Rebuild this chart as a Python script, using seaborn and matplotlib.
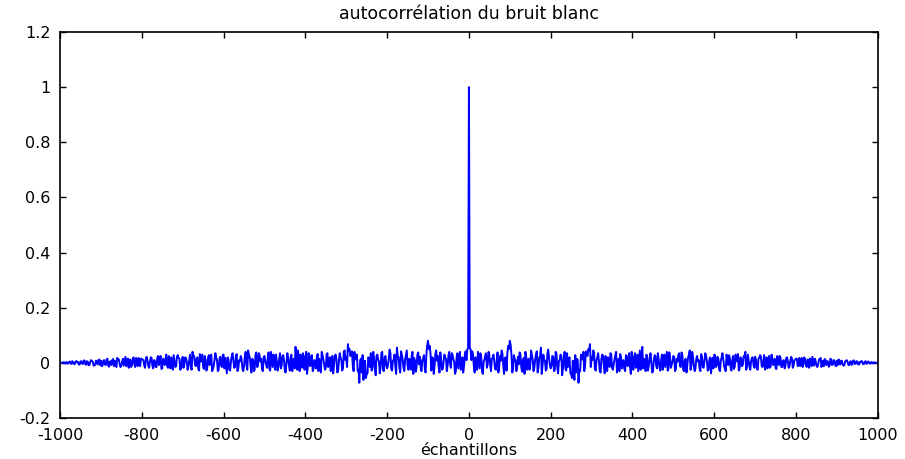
import numpy as np
import pandas as pd
import matplotlib
matplotlib.use("Agg")
import matplotlib.pyplot as plt
import seaborn as sns

# autocorrelation, positive lags only, in thousandths;
# the autocorrelation is even so the negative side mirrors it
peak_value = 1.0

# lags 2, 6, 10, ..., 998
r_lag2_milli = [
    55, 10, 30, -35, 5, 40, -20, 22, -40, 12, 35, -5, 28, -30, 18, 5, -25, 38, -15, 8, 32, -40, 20, 35, 50,
    65, -35, 28, 10, -15, -5, 30, -32, 18, 40, -25, 15, -10, 28, -30, 12, 42, -18, 25, -40, 30, 8, -22, 48, -8,
    -10, 20, -25, 35, -38, 12, 25, -20, 40, -28, -15, 20, -40, 8, -62, -35, 10, -25, 30, 12, -30, 42, 25, 45, -15,
    10, 38, -28, 20, 5, -35, 30, -10, 25, -30, 12, 35, -18, -5, 28, -35, 15, 32, -20, 10, -30, 25, 5, -15, 40,
    -25, 35, -10, -30, 45, 20, -20, 8, 30, -28, 15, 5, -32, 28, -10, 35, -15, 10, -25, 30, 12, -28, 38, -18, 5,
    20, -22, 5, 35, -15, 28, -30, 15, -10, 30, -25, 40, -12, -20, 25, 10, -30, 22, -18, 35, 5, -25, 20, -10, -20,
    28, -10, 15, -30, 20, 12, -22, 30, -8, 18, -28, 25, -15, 10, 32, -20, 15, -5, 22, -25, 30, -12, 5, 20, -18,
    10, -25, 18, 22, -15, 28, -10, -20, 25, -12, 15, 8, -20, 25, -8, 18, -15, 10, -12, 20, -18, 8, 15, -10, 12,
    15, -8, -12, 18, -5, 14, -15, 10, 16, -12, 5, 15, -10, -5, 12, -15, 8, 14, -8, 5, -10, 12, -6, 8, -12,
    -8, 10, 5, -6, -9, 7, 4, -8, 6, -5, 8, -3, 5, -6, 2, 4, -4, 6, -2, 3, -3, 1, 2, 0, 1,
]

# lags 4, 8, 12, ..., 1000
r_lag4_milli = [
    48, 42, -12, 20, -25, 10, 35, -30, 5, 28, -18, 40, -8, 15, 30, -22, 12, -35, 25, 45, -10, 18, -28, 62, 80,
    30, -20, 15, -30, 22, 38, -15, 8, -40, 25, 5, -25, 45, 12, -18, 30, -35, 20, 55, -12, 10, -28, 35, 15, -20,
    25, -30, 40, -15, 5, 30, -45, 18, -20, 35, 10, -38, -55, -20, 28, 15, -72, -30, 22, 40, -10, 30, 50, 68, 20,
    45, -20, 10, 35, -30, 15, 25, -38, 5, 20, -15, 30, -25, 12, 40, -10, -30, 18, 8, -22, 28, -12, 35, -40, 15,
    20, -18, 30, 10, -25, 58, 15, -30, 22, -10, 35, -35, 5, 25, -20, 12, -28, 30, 8, -15, 40, -22, 18, -5, 25,
    -30, 15, 28, -12, 38, -25, 10, -35, 20, 45, -8, 22, -30, 15, 5, -20, 32, -15, 10, 25, -28, 12, -38, 18, 30,
    -15, 22, -25, 8, 35, -10, -30, 15, 28, -18, 10, -22, 30, 5, -28, 20, -12, 25, 40, -15, 8, -25, 18, -8, 22,
    -20, 15, 28, -12, 5, -25, 20, 10, -18, 30, -8, 15, -22, 12, 25, -15, 8, -20, 18, 5, -12, 22, -18, 10, 15,
    -12, 18, 5, -15, 20, -8, 12, -18, 8, 22, -10, 5, -15, 12, 18, -5, -12, 10, 6, -14, 15, -8, 10, -10, 8,
    12, -6, 8, -10, 5, 10, -8, 4, -7, 9, -4, 6, -6, 3, 7, -5, 3, -4, 5, -2, 3, -2, 2, -1, 0,
]

x_ticks = [-1000, -800, -600, -400, -200, 0, 200, 400, 600, 800, 1000]
y_ticks = [-0.2, 0, 0.2, 0.4, 0.6, 0.8, 1, 1.2]
y_tick_labels = ["-0.2", "0", "0.2", "0.4", "0.6", "0.8", "1", "1.2"]

# interleave the two readings into one positive-lag series
n = min(len(r_lag2_milli), len(r_lag4_milli))
r_pos = np.empty(2 * n)
r_pos[0::2] = np.array(r_lag2_milli[:n]) / 1000.0
r_pos[1::2] = np.array(r_lag4_milli[:n]) / 1000.0
lags_pos = 2 * np.arange(1, 2 * n + 1)

lags = np.concatenate([-lags_pos[::-1], [0], lags_pos])
r = np.concatenate([r_pos[::-1], [peak_value], r_pos])
df = pd.DataFrame({"lag": lags, "r": r})

sns.set_style("ticks")
plt.rcParams["font.family"] = ["DejaVu Sans"]

fig = plt.figure(figsize=(9.05, 4.59), dpi=100)
ax = fig.add_axes([0.0663, 0.0893, 0.9037, 0.8410])

sns.lineplot(data=df, x="lag", y="r", color="#0000ff", linewidth=1.4, ax=ax,
             estimator=None, errorbar=None)

ax.set_xlim(-1000, 1000)
ax.set_ylim(-0.2, 1.2)
ax.set_xticks(x_ticks)
ax.set_xticklabels([str(t) for t in x_ticks])
ax.set_yticks(y_ticks)
ax.set_yticklabels(y_tick_labels)
ax.tick_params(direction="in", length=4, width=1, top=True, right=True,
               labelsize=11.5, colors="black")
ax.tick_params(axis="x", pad=7)
ax.tick_params(axis="y", pad=7)
for side in ax.spines.values():
    side.set_visible(True)
    side.set_linewidth(1.2)
    side.set_color("black")

ax.set_title("autocorrélation du bruit blanc", fontsize=12.5, pad=9, color="black")
ax.set_xlabel("échantillons", fontsize=11.5, labelpad=0, color="black")
ax.set_ylabel("")

fig.savefig("out.png", dpi=100)
